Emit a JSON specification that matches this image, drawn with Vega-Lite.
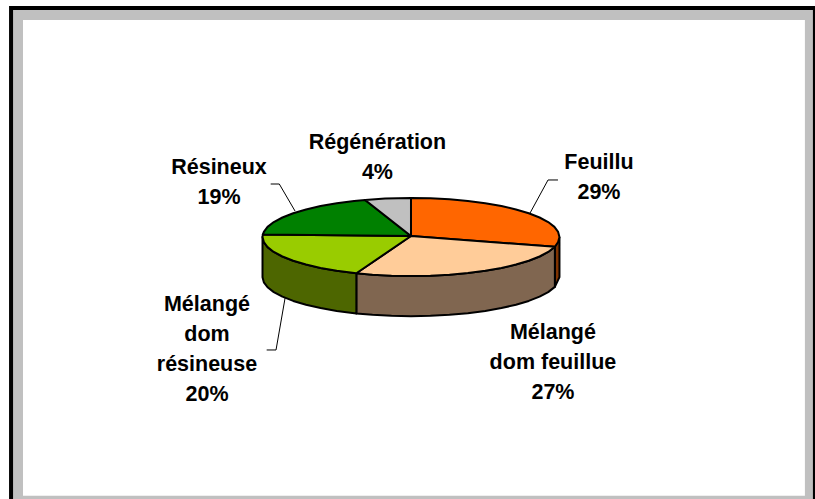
{"$schema":"https://vega.github.io/schema/vega-lite/v6.json","width":815,"height":499,"padding":0,"autosize":{"type":"fit","contains":"padding"},"background":"white","view":{"stroke":null},
"encoding":{"x":{"field":"x","type":"quantitative","axis":null,"scale":{"domain":[-276.8,272.1],"nice":false,"zero":false}},"y":{"field":"y","type":"quantitative","axis":null,"scale":{"domain":[-671.8,607.7],"nice":false,"zero":false}}},
"layer":[
{"data":{"values":[{"x":-270.7,"x2":272.1,"y":592.3,"y2":-671.8}]},"mark":{"type":"rect","color":"#000000"},"encoding":{"x2":{"field":"x2"},"y2":{"field":"y2"}}},
{"data":{"values":[{"x":-268,"x2":270.7,"y":582,"y2":-671.8}]},"mark":{"type":"rect","color":"#c0c0c0"},"encoding":{"x2":{"field":"x2"},"y2":{"field":"y2"}}},
{"data":{"values":[{"x":-261.3,"x2":265.3,"y":556.4,"y2":-663.3}]},"mark":{"type":"rect","color":"#ffffff"},"encoding":{"x2":{"field":"x2"},"y2":{"field":"y2"}}},
{"data":{"values":[
{"piece":"Feuillu côté","n":1,"x":100,"y":0},{"piece":"Feuillu côté","n":2,"x":96.9,"y":-24.9},{"piece":"Feuillu côté","n":3,"x":96.9,"y":-127.9},{"piece":"Feuillu côté","n":4,"x":100,"y":-103},{"piece":"Feuillu côté","n":5,"x":100,"y":0},
{"piece":"Mélangé dom feuillue côté","n":1,"x":96.9,"y":-24.9},{"piece":"Mélangé dom feuillue côté","n":2,"x":92.4,"y":-38.3},{"piece":"Mélangé dom feuillue côté","n":3,"x":86.6,"y":-50},{"piece":"Mélangé dom feuillue côté","n":4,"x":79.3,"y":-60.9},{"piece":"Mélangé dom feuillue côté","n":5,"x":70.7,"y":-70.7},{"piece":"Mélangé dom feuillue côté","n":6,"x":60.9,"y":-79.3},{"piece":"Mélangé dom feuillue côté","n":7,"x":50,"y":-86.6},{"piece":"Mélangé dom feuillue côté","n":8,"x":38.3,"y":-92.4},{"piece":"Mélangé dom feuillue côté","n":9,"x":25.9,"y":-96.6},{"piece":"Mélangé dom feuillue côté","n":10,"x":13.1,"y":-99.1},{"piece":"Mélangé dom feuillue côté","n":11,"x":0,"y":-100},{"piece":"Mélangé dom feuillue côté","n":12,"x":-13.1,"y":-99.1},{"piece":"Mélangé dom feuillue côté","n":13,"x":-25.9,"y":-96.6},{"piece":"Mélangé dom feuillue côté","n":14,"x":-36.8,"y":-93},{"piece":"Mélangé dom feuillue côté","n":15,"x":-36.8,"y":-196},{"piece":"Mélangé dom feuillue côté","n":16,"x":-25.9,"y":-199.6},{"piece":"Mélangé dom feuillue côté","n":17,"x":-13.1,"y":-202.1},{"piece":"Mélangé dom feuillue côté","n":18,"x":0,"y":-203},{"piece":"Mélangé dom feuillue côté","n":19,"x":13.1,"y":-202.1},{"piece":"Mélangé dom feuillue côté","n":20,"x":25.9,"y":-199.6},{"piece":"Mélangé dom feuillue côté","n":21,"x":38.3,"y":-195.4},{"piece":"Mélangé dom feuillue côté","n":22,"x":50,"y":-189.6},{"piece":"Mélangé dom feuillue côté","n":23,"x":60.9,"y":-182.3},{"piece":"Mélangé dom feuillue côté","n":24,"x":70.7,"y":-173.7},{"piece":"Mélangé dom feuillue côté","n":25,"x":79.3,"y":-163.9},{"piece":"Mélangé dom feuillue côté","n":26,"x":86.6,"y":-153},{"piece":"Mélangé dom feuillue côté","n":27,"x":92.4,"y":-141.3},{"piece":"Mélangé dom feuillue côté","n":28,"x":96.9,"y":-127.9},{"piece":"Mélangé dom feuillue côté","n":29,"x":96.9,"y":-24.9},
{"piece":"Mélangé dom résineuse côté","n":1,"x":-36.8,"y":-93},{"piece":"Mélangé dom résineuse côté","n":2,"x":-50,"y":-86.6},{"piece":"Mélangé dom résineuse côté","n":3,"x":-60.9,"y":-79.3},{"piece":"Mélangé dom résineuse côté","n":4,"x":-70.7,"y":-70.7},{"piece":"Mélangé dom résineuse côté","n":5,"x":-79.3,"y":-60.9},{"piece":"Mélangé dom résineuse côté","n":6,"x":-86.6,"y":-50},{"piece":"Mélangé dom résineuse côté","n":7,"x":-92.4,"y":-38.3},{"piece":"Mélangé dom résineuse côté","n":8,"x":-96.6,"y":-25.9},{"piece":"Mélangé dom résineuse côté","n":9,"x":-99.1,"y":-13.1},{"piece":"Mélangé dom résineuse côté","n":10,"x":-100,"y":0},{"piece":"Mélangé dom résineuse côté","n":11,"x":-100,"y":-103},{"piece":"Mélangé dom résineuse côté","n":12,"x":-99.1,"y":-116.1},{"piece":"Mélangé dom résineuse côté","n":13,"x":-96.6,"y":-128.9},{"piece":"Mélangé dom résineuse côté","n":14,"x":-92.4,"y":-141.3},{"piece":"Mélangé dom résineuse côté","n":15,"x":-86.6,"y":-153},{"piece":"Mélangé dom résineuse côté","n":16,"x":-79.3,"y":-163.9},{"piece":"Mélangé dom résineuse côté","n":17,"x":-70.7,"y":-173.7},{"piece":"Mélangé dom résineuse côté","n":18,"x":-60.9,"y":-182.3},{"piece":"Mélangé dom résineuse côté","n":19,"x":-50,"y":-189.6},{"piece":"Mélangé dom résineuse côté","n":20,"x":-36.8,"y":-196},{"piece":"Mélangé dom résineuse côté","n":21,"x":-36.8,"y":-93},
{"piece":"Feuillu","n":1,"x":0,"y":2.5},{"piece":"Feuillu","n":2,"x":0,"y":100},{"piece":"Feuillu","n":3,"x":13.1,"y":99.1},{"piece":"Feuillu","n":4,"x":25.9,"y":96.6},{"piece":"Feuillu","n":5,"x":38.3,"y":92.4},{"piece":"Feuillu","n":6,"x":50,"y":86.6},{"piece":"Feuillu","n":7,"x":60.9,"y":79.3},{"piece":"Feuillu","n":8,"x":70.7,"y":70.7},{"piece":"Feuillu","n":9,"x":79.3,"y":60.9},{"piece":"Feuillu","n":10,"x":86.6,"y":50},{"piece":"Feuillu","n":11,"x":92.4,"y":38.3},{"piece":"Feuillu","n":12,"x":96.6,"y":25.9},{"piece":"Feuillu","n":13,"x":99.1,"y":13.1},{"piece":"Feuillu","n":14,"x":100,"y":0},{"piece":"Feuillu","n":15,"x":99.1,"y":-13.1},{"piece":"Feuillu","n":16,"x":96.9,"y":-24.9},{"piece":"Feuillu","n":17,"x":0,"y":2.5},
{"piece":"Mélangé dom feuillue","n":1,"x":0,"y":2.5},{"piece":"Mélangé dom feuillue","n":2,"x":96.9,"y":-24.9},{"piece":"Mélangé dom feuillue","n":3,"x":92.4,"y":-38.3},{"piece":"Mélangé dom feuillue","n":4,"x":86.6,"y":-50},{"piece":"Mélangé dom feuillue","n":5,"x":79.3,"y":-60.9},{"piece":"Mélangé dom feuillue","n":6,"x":70.7,"y":-70.7},{"piece":"Mélangé dom feuillue","n":7,"x":60.9,"y":-79.3},{"piece":"Mélangé dom feuillue","n":8,"x":50,"y":-86.6},{"piece":"Mélangé dom feuillue","n":9,"x":38.3,"y":-92.4},{"piece":"Mélangé dom feuillue","n":10,"x":25.9,"y":-96.6},{"piece":"Mélangé dom feuillue","n":11,"x":13.1,"y":-99.1},{"piece":"Mélangé dom feuillue","n":12,"x":0,"y":-100},{"piece":"Mélangé dom feuillue","n":13,"x":-13.1,"y":-99.1},{"piece":"Mélangé dom feuillue","n":14,"x":-25.9,"y":-96.6},{"piece":"Mélangé dom feuillue","n":15,"x":-36.8,"y":-93},{"piece":"Mélangé dom feuillue","n":16,"x":0,"y":2.5},
{"piece":"Mélangé dom résineuse","n":1,"x":0,"y":2.5},{"piece":"Mélangé dom résineuse","n":2,"x":-36.8,"y":-93},{"piece":"Mélangé dom résineuse","n":3,"x":-50,"y":-86.6},{"piece":"Mélangé dom résineuse","n":4,"x":-60.9,"y":-79.3},{"piece":"Mélangé dom résineuse","n":5,"x":-70.7,"y":-70.7},{"piece":"Mélangé dom résineuse","n":6,"x":-79.3,"y":-60.9},{"piece":"Mélangé dom résineuse","n":7,"x":-86.6,"y":-50},{"piece":"Mélangé dom résineuse","n":8,"x":-92.4,"y":-38.3},{"piece":"Mélangé dom résineuse","n":9,"x":-96.6,"y":-25.9},{"piece":"Mélangé dom résineuse","n":10,"x":-99.1,"y":-13.1},{"piece":"Mélangé dom résineuse","n":11,"x":-100,"y":0},{"piece":"Mélangé dom résineuse","n":12,"x":-99.8,"y":6.3},{"piece":"Mélangé dom résineuse","n":13,"x":0,"y":2.5},
{"piece":"Résineux","n":1,"x":0,"y":2.5},{"piece":"Résineux","n":2,"x":-99.8,"y":6.3},{"piece":"Résineux","n":3,"x":-99.1,"y":13.1},{"piece":"Résineux","n":4,"x":-96.6,"y":25.9},{"piece":"Résineux","n":5,"x":-92.4,"y":38.3},{"piece":"Résineux","n":6,"x":-86.6,"y":50},{"piece":"Résineux","n":7,"x":-79.3,"y":60.9},{"piece":"Résineux","n":8,"x":-70.7,"y":70.7},{"piece":"Résineux","n":9,"x":-60.9,"y":79.3},{"piece":"Résineux","n":10,"x":-50,"y":86.6},{"piece":"Résineux","n":11,"x":-38.3,"y":92.4},{"piece":"Résineux","n":12,"x":-30.9,"y":95.1},{"piece":"Résineux","n":13,"x":0,"y":2.5},
{"piece":"Régénération","n":1,"x":0,"y":2.5},{"piece":"Régénération","n":2,"x":-30.9,"y":95.1},{"piece":"Régénération","n":3,"x":-17.4,"y":98.5},{"piece":"Régénération","n":4,"x":0,"y":100},{"piece":"Régénération","n":5,"x":0,"y":2.5}
]},
"mark":{"type":"line","filled":true,"stroke":"#000000","strokeWidth":2,"strokeJoin":"round"},
"encoding":{"order":{"field":"n","type":"quantitative"},"detail":{"field":"piece"},"color":{"field":"piece","type":"nominal","legend":null,"sort":null,"scale":{"domain":["Feuillu côté","Mélangé dom feuillue côté","Mélangé dom résineuse côté","Feuillu","Mélangé dom feuillue","Mélangé dom résineuse","Résineux","Régénération"],"range":["#803300","#806650","#4d6600","#ff6600","#ffcc99","#99cc00","#008000","#c0c0c0"]}}}},
{"data":{"values":[
{"label":"Feuillu","n":1,"x":99,"y":146.2},{"label":"Feuillu","n":2,"x":92.3,"y":146.2},{"label":"Feuillu","n":3,"x":80.1,"y":60.8},
{"label":"Résineux","n":1,"x":-94.5,"y":135.9},{"label":"Résineux","n":2,"x":-88.7,"y":135.9},{"label":"Résineux","n":3,"x":-78.1,"y":66.7},
{"label":"Mélangé dom résineuse","n":1,"x":-84.8,"y":-156.4},{"label":"Mélangé dom résineuse","n":2,"x":-90.9,"y":-289.7},{"label":"Mélangé dom résineuse","n":3,"x":-97.2,"y":-289.7}
]},"mark":{"type":"line","color":"#000000","strokeWidth":1},"encoding":{"order":{"field":"n","type":"quantitative"},"detail":{"field":"label"}}},
{"data":{"values":[
{"t":"Régénération\n4%","x":-22.6,"y":241},
{"t":"Feuillu\n29%","x":126.6,"y":189.7},
{"t":"Résineux\n19%","x":-129.3,"y":176.9},
{"t":"Mélangé\ndom feuillue\n27%","x":95.6,"y":-246.2},
{"t":"Mélangé\ndom\nrésineuse\n20%","x":-137.4,"y":-174.4}
]},"mark":{"type":"text","font":"Liberation Sans","fontWeight":"bold","fontSize":21.5,"color":"#000000","lineBreak":"\n","lineHeight":30,"align":"center","baseline":"middle"},"encoding":{"text":{"field":"t"}}}
]}
